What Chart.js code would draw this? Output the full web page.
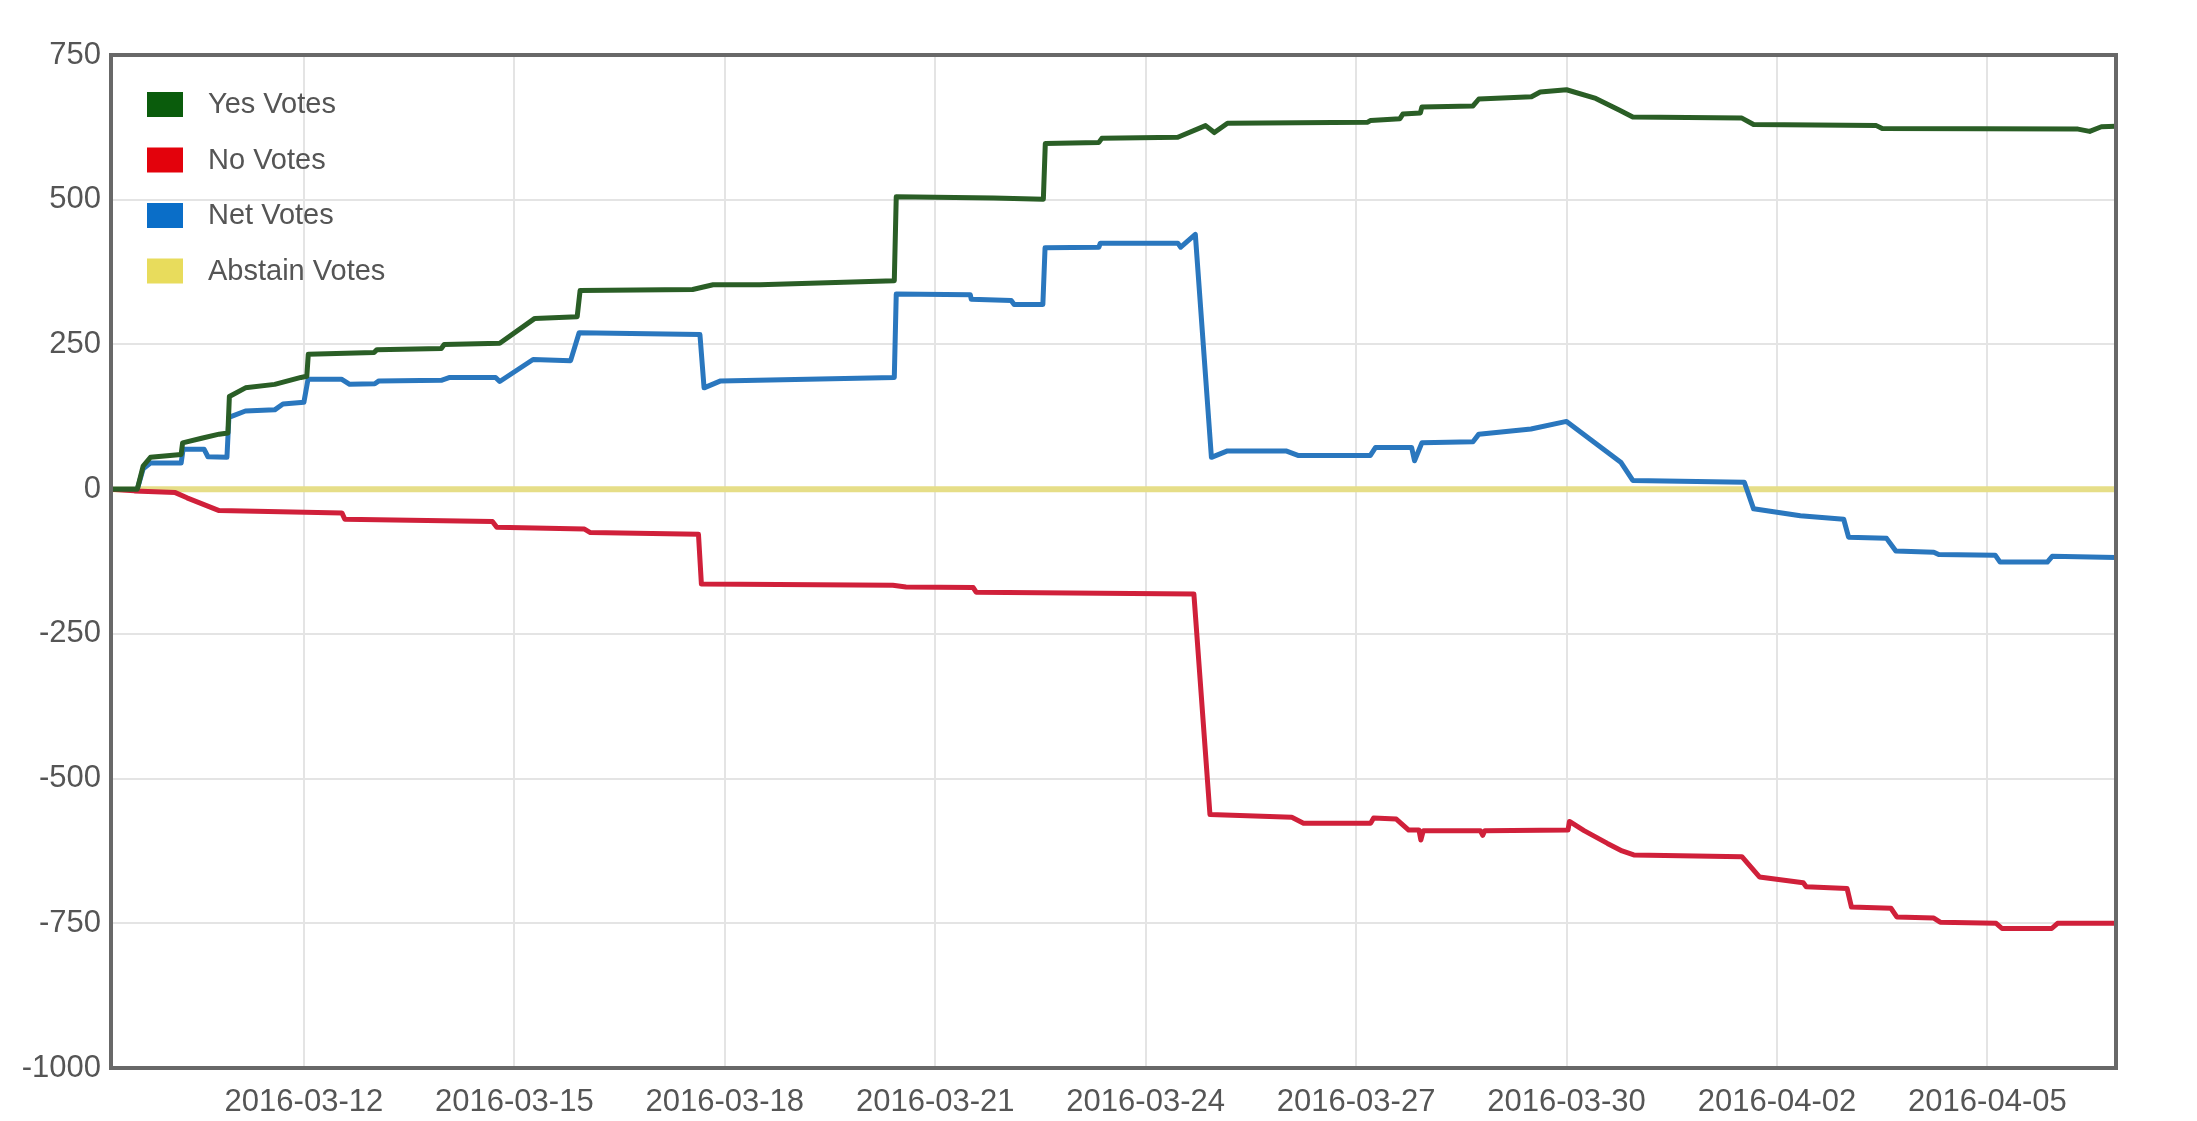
<!DOCTYPE html>
<html lang="en">
  <head>
    <title>Votes</title>
    <script src="https://cdn.jsdelivr.net/npm/chart.js@4.4.1/dist/chart.umd.min.js"></script>
    <style>
      body{
        margin: 0;
        background-color: #ffffff;
      }
      #wrap{
        width: 2197px;
        height: 1121px;
      }
    </style>
  </head>
  <body>
    <div id="wrap">
      <canvas id="votesChart" width="2197" height="1121"></canvas>
    </div>

<script>
  // running vote totals, times in UTC
  const yesTimes = ['2016-03-09 06:00', '2016-03-09 15:00', '2016-03-09 17:00', '2016-03-09 19:30', '2016-03-10 06:00', '2016-03-10 06:30',
    '2016-03-10 13:00', '2016-03-10 19:00', '2016-03-10 22:00', '2016-03-10 22:30', '2016-03-11 04:00', '2016-03-11 14:00',
    '2016-03-11 23:00', '2016-03-12 01:00', '2016-03-12 01:30', '2016-03-13 00:00', '2016-03-13 01:00', '2016-03-13 23:00',
    '2016-03-14 00:00', '2016-03-14 19:00', '2016-03-15 07:00', '2016-03-15 21:30', '2016-03-15 22:30', '2016-03-17 13:00',
    '2016-03-17 20:00', '2016-03-18 12:00', '2016-03-20 10:00', '2016-03-20 10:40', '2016-03-21 20:00', '2016-03-22 13:00',
    '2016-03-22 13:40', '2016-03-23 08:00', '2016-03-23 09:00', '2016-03-24 11:00', '2016-03-24 20:30', '2016-03-24 23:30',
    '2016-03-25 04:00', '2016-03-27 04:00', '2016-03-27 05:00', '2016-03-27 15:00', '2016-03-27 16:00', '2016-03-27 22:00',
    '2016-03-27 22:30', '2016-03-28 16:00', '2016-03-28 18:00', '2016-03-29 12:00', '2016-03-29 15:00', '2016-03-30 00:00',
    '2016-03-30 10:00', '2016-03-30 18:00', '2016-03-30 22:40', '2016-04-01 12:00', '2016-04-01 16:00', '2016-04-03 10:00',
    '2016-04-03 12:00', '2016-04-06 07:00', '2016-04-06 11:00', '2016-04-06 15:00', '2016-04-06 20:00'];
  const yesVotes = [0, 0, 40, 55, 60, 80,
    88, 95, 97, 160, 175, 181,
    193, 195, 233, 236, 241, 243,
    250, 252, 295, 298, 343, 345,
    353, 353, 360, 505, 503, 501,
    597, 599, 606, 608, 628, 616,
    632, 634, 637, 640, 648, 650,
    660, 662, 674, 678, 686, 690,
    675, 655, 643, 641, 630, 628,
    623, 622, 618, 626, 627];

  const noTimes = ['2016-03-09 06:00', '2016-03-09 14:00', '2016-03-10 04:00', '2016-03-10 08:00', '2016-03-10 19:00', '2016-03-12 13:00',
    '2016-03-12 14:00', '2016-03-14 16:30', '2016-03-14 18:00', '2016-03-16 00:00', '2016-03-16 02:00', '2016-03-17 15:00',
    '2016-03-17 16:00', '2016-03-20 09:30', '2016-03-20 14:00', '2016-03-21 13:00', '2016-03-21 14:00', '2016-03-24 16:30',
    '2016-03-24 22:00', '2016-03-26 02:00', '2016-03-26 06:00', '2016-03-27 05:00', '2016-03-27 06:00', '2016-03-27 13:45',
    '2016-03-27 18:00', '2016-03-27 21:30', '2016-03-27 22:10', '2016-03-27 23:00', '2016-03-28 18:30', '2016-03-28 19:20',
    '2016-03-28 20:00', '2016-03-30 00:30', '2016-03-30 01:00', '2016-03-30 06:00', '2016-03-30 14:00', '2016-03-30 19:00',
    '2016-03-30 23:00', '2016-04-01 12:00', '2016-04-01 18:00', '2016-04-02 09:00', '2016-04-02 10:00', '2016-04-03 00:00',
    '2016-04-03 01:30', '2016-04-03 15:00', '2016-04-03 17:00', '2016-04-04 05:40', '2016-04-04 07:50', '2016-04-05 03:00',
    '2016-04-05 05:00', '2016-04-05 22:00', '2016-04-06 00:00', '2016-04-06 20:00'];
  const noVotes = [0, -3, -6, -15, -37, -41,
    -52, -56, -66, -69, -75, -78,
    -164, -166, -169, -170, -178, -181,
    -562, -567, -577, -577, -568, -570,
    -589, -589, -606, -590, -590, -598,
    -590, -589, -574, -590, -612, -625,
    -632, -635, -670, -680, -687, -690,
    -722, -724, -739, -741, -748, -750,
    -759, -759, -750, -750];

  const netTimes = ['2016-03-09 06:00', '2016-03-09 15:00', '2016-03-09 17:00', '2016-03-09 19:30', '2016-03-10 06:00', '2016-03-10 06:40',
    '2016-03-10 13:50', '2016-03-10 15:10', '2016-03-10 21:40', '2016-03-10 22:20', '2016-03-11 04:00', '2016-03-11 14:00',
    '2016-03-11 16:50', '2016-03-12 00:00', '2016-03-12 01:25', '2016-03-12 12:50', '2016-03-12 15:40', '2016-03-13 00:15',
    '2016-03-13 01:40', '2016-03-13 23:00', '2016-03-14 01:55', '2016-03-14 17:35', '2016-03-14 19:00', '2016-03-15 06:25',
    '2016-03-15 19:15', '2016-03-15 22:10', '2016-03-17 15:30', '2016-03-17 16:55', '2016-03-17 22:35', '2016-03-20 10:00',
    '2016-03-20 10:40', '2016-03-21 12:00', '2016-03-21 12:20', '2016-03-22 02:00', '2016-03-22 03:00', '2016-03-22 12:50',
    '2016-03-22 13:35', '2016-03-23 08:00', '2016-03-23 08:30', '2016-03-24 11:00', '2016-03-24 12:00', '2016-03-24 17:00',
    '2016-03-24 22:30', '2016-03-25 04:00', '2016-03-26 00:00', '2016-03-26 04:20', '2016-03-27 04:50', '2016-03-27 06:40',
    '2016-03-27 19:00', '2016-03-27 20:00', '2016-03-27 22:30', '2016-03-28 16:00', '2016-03-28 18:00', '2016-03-29 11:50',
    '2016-03-30 00:00', '2016-03-30 18:40', '2016-03-30 22:40', '2016-04-01 12:50', '2016-04-01 16:00', '2016-04-02 08:00',
    '2016-04-02 22:50', '2016-04-03 00:30', '2016-04-03 13:30', '2016-04-03 16:40', '2016-04-04 05:40', '2016-04-04 07:20',
    '2016-04-05 02:40', '2016-04-05 04:20', '2016-04-05 20:30', '2016-04-05 22:10', '2016-04-06 20:00'];
  const netVotes = [0, 0, 35, 45, 45, 69,
    69, 56, 55, 124, 135, 137,
    147, 150, 190, 190, 181, 182,
    187, 188, 193, 193, 186, 224,
    222, 270, 267, 175, 187, 193,
    337, 336, 328, 326, 319, 319,
    417, 418, 425, 425, 418, 440,
    55, 66, 66, 58, 58, 72,
    72, 49, 80, 82, 95, 104,
    117, 46, 15, 12, -34, -46,
    -52, -83, -85, -107, -109, -113,
    -114, -126, -126, -116, -118];

  const abstainTimes = ['2016-03-09 06:00', '2016-03-24 00:00', '2016-04-06 20:00'];
  const abstainVotes = [0, 0, 0];

  const xTickLabels = ['2016-03-12', '2016-03-15', '2016-03-18', '2016-03-21', '2016-03-24',
    '2016-03-27', '2016-03-30', '2016-04-02', '2016-04-05'];
  const yTickValues = [-1000, -750, -500, -250, 0, 250, 500, 750];

  function toTime(s) {
    const [d, t] = s.split(' ');
    const [yy, mm, dd] = d.split('-').map(Number);
    const [hh, mi] = (t || '00:00').split(':').map(Number);
    return Date.UTC(yy, mm - 1, dd, hh, mi);
  }

  function toPoints(times, values) {
    return times.map((t, i) => ({ x: toTime(t), y: values[i] }));
  }

  const xTickValues = xTickLabels.map(toTime);
  const fontFamily = '"Liberation Sans", Arial, sans-serif';

  // box around the plot area plus the legend drawn inside it
  const frameAndLegend = {
    id: 'frameAndLegend',
    afterDatasetsDraw(chart) {
      const ctx = chart.ctx;
      const a = chart.chartArea;
      ctx.save();
      ctx.strokeStyle = '#686868';
      ctx.lineWidth = 4;
      ctx.strokeRect(a.left, a.top, a.right - a.left, a.bottom - a.top);

      ctx.font = '29px ' + fontFamily;
      ctx.textBaseline = 'middle';
      ctx.textAlign = 'left';
      chart.data.datasets.forEach((ds, i) => {
        const y = a.top + 49 + i * 55.5;
        ctx.fillStyle = ds.backgroundColor;
        ctx.fillRect(a.left + 36, y - 12, 36, 25);
        ctx.fillStyle = '#555555';
        ctx.fillText(ds.label, a.left + 97, y + 1);
      });
      ctx.restore();
    }
  };

  const votesCtx = document.getElementById('votesChart').getContext('2d');
  const votesChart = new Chart(votesCtx, {
    type: 'line',
    data: {
      datasets: [
        { label: 'Yes Votes', data: toPoints(yesTimes, yesVotes), borderColor: '#2a5e26', backgroundColor: '#0a5c0c' },
        { label: 'No Votes', data: toPoints(noTimes, noVotes), borderColor: '#d0203a', backgroundColor: '#e3020c' },
        { label: 'Net Votes', data: toPoints(netTimes, netVotes), borderColor: '#2a77be', backgroundColor: '#0a6ec8' },
        { label: 'Abstain Votes', data: toPoints(abstainTimes, abstainVotes), borderColor: '#e6de88', backgroundColor: '#e8dc5c', borderWidth: 6 }
      ]
    },
    options: {
      responsive: false,
      animation: false,
      devicePixelRatio: 1,
      layout: {
        autoPadding: false,
        padding: { top: 55, right: 81, left: 0, bottom: 0 }
      },
      elements: {
        point: { radius: 0 },
        line: { borderWidth: 5, tension: 0, fill: false, borderJoinStyle: 'round', borderCapStyle: 'round' }
      },
      plugins: {
        legend: { display: false },
        tooltip: { enabled: false }
      },
      scales: {
        x: {
          type: 'linear',
          min: toTime('2016-03-09 06:00'),
          max: toTime('2016-04-06 20:00'),
          afterBuildTicks: (scale) => {
            scale.ticks = xTickValues.map(v => ({ value: v }));
          },
          afterFit: (scale) => { scale.height = 53; },
          grid: { color: '#e4e4e4', lineWidth: 2, drawTicks: false },
          border: { display: false },
          ticks: {
            autoSkip: false,
            maxRotation: 0,
            padding: 16,
            color: '#555555',
            font: { family: fontFamily, size: 31 },
            callback: (value, index) => xTickLabels[index]
          }
        },
        y: {
          min: -1000,
          max: 750,
          afterBuildTicks: (scale) => {
            scale.ticks = yTickValues.map(v => ({ value: v }));
          },
          afterFit: (scale) => { scale.width = 111; },
          grid: { color: '#e4e4e4', lineWidth: 2, drawTicks: false },
          border: { display: false },
          ticks: {
            padding: 10,
            color: '#555555',
            font: { family: fontFamily, size: 31 },
            callback: (value) => String(value)
          }
        }
      }
    },
    plugins: [frameAndLegend]
  });
</script>
  </body>
</html>
